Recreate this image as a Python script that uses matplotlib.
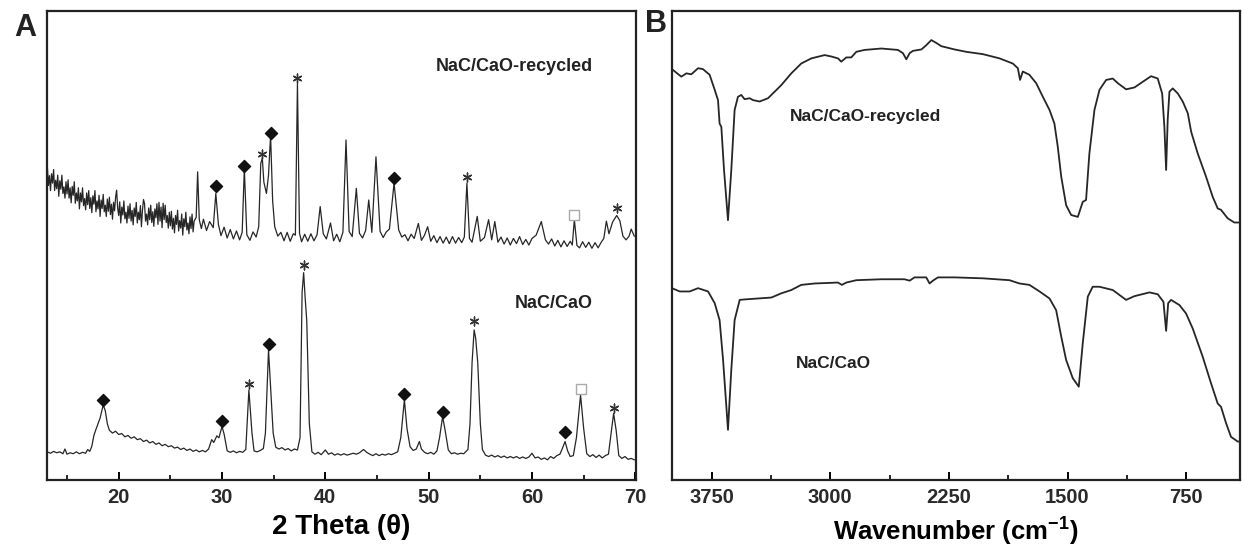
import matplotlib.pyplot as plt

plt.rcParams['font.family'] = ['Liberation Sans', 'DejaVu Sans']
plt.rcParams['mathtext.fontset'] = 'custom'
plt.rcParams['mathtext.bf'] = 'Liberation Sans:bold'
plt.rcParams['mathtext.rm'] = 'Liberation Sans'

# ---- XRD, NaC/CaO-recycled (2theta, a.u.)
# noisy low-angle part, read every 0.1 deg
xrd_rec_x = [13.1, 13.2, 13.3, 13.4, 13.5, 13.6, 13.7, 13.8, 13.9, 14.0, 14.1, 14.2, 14.3, 14.4, 14.5,
             14.6, 14.7, 14.8, 14.9, 15.0, 15.1, 15.2, 15.3, 15.4, 15.5, 15.6, 15.7, 15.8, 15.9, 16.0,
             16.1, 16.2, 16.3, 16.4, 16.5, 16.6, 16.7, 16.8, 16.9, 17.0, 17.1, 17.2, 17.3, 17.4, 17.5,
             17.6, 17.7, 17.8, 17.9, 18.0, 18.1, 18.2, 18.3, 18.4, 18.5, 18.6, 18.7, 18.8, 18.9, 19.0,
             19.1, 19.2, 19.3, 19.4, 19.5, 19.6, 19.7, 19.8, 19.9, 20.0, 20.1, 20.2, 20.3, 20.4, 20.5,
             20.6, 20.7, 20.8, 20.9, 21.0, 21.1, 21.2, 21.3, 21.4, 21.5, 21.6, 21.7, 21.8, 21.9, 22.0,
             22.1, 22.2, 22.3, 22.4, 22.5, 22.6, 22.7, 22.8, 22.9, 23.0, 23.1, 23.2, 23.3, 23.4, 23.5,
             23.6, 23.7, 23.8, 23.9, 24.0, 24.1, 24.2, 24.3, 24.4, 24.5, 24.6, 24.7, 24.8, 24.9, 25.0,
             25.1, 25.2, 25.3, 25.4, 25.5, 25.6, 25.7, 25.8, 25.9, 26.0, 26.1, 26.2, 26.3, 26.4, 26.5,
             26.6, 26.7, 26.8, 26.9, 27.0, 27.1, 27.2, 27.3,
             27.5, 27.64, 27.8, 28.0, 28.2, 28.5, 28.8, 29.15, 29.4, 29.65, 29.9, 30.2, 30.5, 30.8, 31.1,
             31.4, 31.7, 31.95, 32.16, 32.4, 32.7, 33.0, 33.3, 33.55, 33.75, 33.9, 34.05, 34.3, 34.5, 34.7,
             34.9, 35.1, 35.4, 35.7, 36.0, 36.3, 36.6, 36.9, 37.1, 37.3, 37.5, 37.7, 38.0, 38.3, 38.6,
             38.9, 39.2, 39.5, 39.8, 40.1, 40.5, 40.8, 41.1, 41.4, 41.7, 42.0, 42.3, 42.6, 43.0, 43.3,
             43.6, 43.9, 44.2, 44.5, 44.9, 45.3, 45.6, 45.9, 46.2, 46.65, 47.1, 47.4, 47.7, 48.0, 48.3,
             48.6, 49.0, 49.3, 49.6, 49.9, 50.2, 50.5, 50.8, 51.1, 51.4, 51.7, 52.0, 52.3, 52.6, 52.9,
             53.2, 53.45, 53.7, 53.95, 54.2, 54.7, 55.0, 55.4, 55.8, 56.1, 56.4, 56.7, 57.0, 57.3, 57.6,
             57.9, 58.2, 58.5, 58.8, 59.1, 59.4, 59.7, 60.0, 60.4, 60.9, 61.3, 61.6, 61.9, 62.2, 62.5,
             62.8, 63.1, 63.4, 63.7, 63.9, 64.1, 64.35, 64.6, 64.9, 65.2, 65.5, 65.8, 66.1, 66.4, 66.7,
             66.95, 67.2, 67.45, 67.8, 68.2, 68.5, 68.8, 69.1, 69.4, 69.6, 69.9]
xrd_rec_y = [66.6, 62.8, 64.9, 61.7, 65.3, 63.3, 66.2, 61.7, 63.9, 62.1, 65.0, 60.5, 63.8, 62.0, 65.0,
             61.1, 62.5, 60.1, 63.6, 61.0, 64.0, 60.1, 62.3, 59.1, 62.6, 60.7, 63.6, 59.0, 61.2, 59.5,
             62.3, 57.8, 61.2, 59.3, 62.3, 58.5, 60.0, 57.6, 61.2, 58.7, 61.7, 57.9, 60.2, 57.0, 60.6,
             58.8, 61.7, 57.2, 59.5, 57.8, 60.7, 56.2, 59.7, 57.9, 60.9, 57.2, 58.6, 56.2, 59.9, 57.3,
             60.3, 56.6, 58.8, 55.6, 59.2, 57.4, 60.3, 61.8, 58.0, 56.4, 59.3, 54.8, 58.2, 56.5, 59.5,
             55.7, 57.1, 54.8, 58.4, 55.8, 58.9, 55.2, 57.5, 54.4, 58.0, 56.2, 59.2, 54.8, 57.1, 55.5,
             58.5, 54.0, 57.5, 59.8, 58.9, 55.2, 56.7, 54.4, 58.0, 55.5, 58.6, 54.9, 57.2, 54.1, 57.8,
             55.9, 58.9, 54.5, 59.2, 55.2, 58.2, 53.8, 59.0, 55.5, 58.6, 54.9, 56.4, 53.7, 57.1, 54.2,
             57.3, 53.5, 55.8, 52.7, 56.4, 54.5, 57.5, 53.1, 55.3, 53.7, 56.7, 52.2, 55.7, 54.0, 57.1,
             53.3, 54.8, 52.5, 56.1, 53.6, 56.7, 52.9, 55.2,
             56.0, 65.7, 55.5, 53.6, 55.6, 53.2, 55.1, 53.8, 61.1, 54.5, 52.1, 53.9, 51.6, 53.4, 51.4,
             53.1, 51.2, 52.8, 66.4, 52.3, 51.1, 52.9, 51.8, 54.0, 67.5, 68.6, 63.5, 61.1, 65.0, 73.5,
             59.5, 54.0, 52.0, 52.8, 51.0, 52.8, 50.9, 52.5, 52.2, 84.6, 52.6, 50.8, 52.4, 50.9, 52.5,
             51.0, 52.3, 58.3, 52.5, 51.4, 54.8, 51.0, 52.4, 50.8, 52.8, 72.5, 53.0, 51.9, 62.2, 52.6,
             51.6, 53.2, 59.7, 52.8, 68.9, 53.0, 51.7, 52.9, 53.5, 63.3, 53.3, 51.8, 52.3, 51.0, 52.4,
             51.5, 54.7, 51.1, 52.2, 54.0, 50.9, 52.1, 50.6, 51.9, 50.5, 51.8, 50.4, 51.9, 50.5, 51.7,
             50.6, 51.8, 63.3, 51.5, 50.7, 56.2, 50.9, 51.7, 55.5, 51.2, 55.1, 50.7, 51.8, 50.3, 51.6,
             50.1, 51.5, 50.4, 51.9, 50.2, 51.3, 50.1, 51.5, 52.2, 55.1, 51.2, 50.3, 51.4, 49.9, 51.1,
             49.7, 51.0, 49.8, 50.9, 50.1, 55.5, 50.0, 49.5, 50.8, 49.6, 50.7, 49.4, 50.6, 49.5, 50.7,
             51.5, 55.2, 52.5, 55.0, 56.4, 55.3, 52.0, 51.2, 52.0, 53.5, 52.0]

# ---- XRD, NaC/CaO
xrd_x = [13.1, 13.4, 13.7, 14.0, 14.3, 14.6, 14.8, 15.0, 15.3, 15.6, 15.9, 16.2, 16.5, 16.8, 17.0,
         17.2, 17.4, 17.6, 17.8, 18.0, 18.2, 18.5, 18.7, 18.9, 19.1, 19.4, 19.7, 20.0, 20.3, 20.6,
         20.9, 21.2, 21.5, 21.8, 22.1, 22.4, 22.7, 23.0, 23.3, 23.6, 23.9, 24.2, 24.5, 24.8, 25.1,
         25.4, 25.7, 26.0, 26.3, 26.6, 26.9, 27.2, 27.5, 27.8, 28.1, 28.4, 28.7, 29.0, 29.2, 29.5,
         29.7, 30.0, 30.2, 30.5, 30.8, 31.1, 31.4, 31.7, 32.0, 32.3, 32.6, 32.9, 33.1, 33.4, 33.7,
         34.0, 34.2, 34.5, 34.75, 34.95, 35.2, 35.5, 35.8, 36.1, 36.4, 36.7, 37.0, 37.3, 37.55, 37.75,
         37.9, 38.05, 38.2, 38.45, 38.7, 39.0, 39.3, 39.6, 40.0, 40.3, 40.6, 40.9, 41.2, 41.5, 41.8,
         42.1, 42.4, 42.7, 43.0, 43.3, 43.7, 44.0, 44.3, 44.6, 44.9, 45.2, 45.5, 45.8, 46.1, 46.4,
         46.7, 47.0, 47.3, 47.65, 47.9, 48.2, 48.5, 48.8, 49.1, 49.3, 49.6, 49.9, 50.2, 50.5, 50.8,
         51.05, 51.35, 51.6, 51.9, 52.2, 52.5, 52.8, 53.1, 53.4, 53.8, 54.0, 54.2, 54.4, 54.55, 54.75,
         55.0, 55.2, 55.5, 55.8, 56.1, 56.4, 56.7, 57.0, 57.3, 57.6, 57.9, 58.2, 58.5, 58.8, 59.1,
         59.4, 59.7, 60.0, 60.3, 60.6, 60.9, 61.2, 61.5, 61.8, 62.1, 62.4, 62.7, 62.9, 63.2, 63.45,
         63.7, 64.0, 64.3, 64.7, 65.0, 65.3, 65.6, 65.9, 66.2, 66.5, 66.8, 67.1, 67.4, 67.6, 67.9,
         68.15, 68.4, 68.7, 69.0, 69.3, 69.6, 69.9]
xrd_y = [6.0, 5.7, 6.1, 5.8, 6.0, 5.6, 6.6, 5.5, 5.8, 5.6, 6.0, 5.6, 5.9, 5.7, 6.5,
         6.1, 7.2, 9.5, 10.8, 12.0, 13.2, 16.0, 14.8, 12.0, 10.6, 10.0, 10.4, 9.7, 9.9, 9.2,
         9.5, 8.9, 9.2, 8.6, 8.8, 8.2, 8.5, 7.9, 8.2, 7.6, 7.9, 7.3, 7.6, 7.1, 7.3,
         6.8, 7.0, 6.5, 6.8, 6.3, 6.6, 6.1, 6.4, 6.0, 6.3, 6.0, 6.6, 8.6, 8.0, 9.4,
         9.0, 11.4, 9.8, 6.2, 5.9, 6.2, 5.8, 6.1, 5.9, 6.5, 19.2, 10.0, 6.2, 6.0, 6.3,
         6.7, 10.0, 27.7, 18.0, 10.0, 7.0, 6.6, 6.9, 6.4, 6.7, 6.2, 6.6, 6.4, 9.0, 40.0,
         44.2, 38.7, 34.0, 12.0, 6.0, 5.5, 5.9, 5.4, 6.4, 5.5, 5.8, 5.3, 5.6, 5.3, 5.6,
         5.3, 5.5, 5.7, 5.5, 5.8, 6.5, 5.9, 5.5, 5.2, 5.6, 5.2, 5.5, 5.3, 5.6, 5.4,
         5.7, 6.0, 9.0, 17.1, 11.0, 7.1, 6.3, 6.6, 8.2, 6.6, 5.9, 5.6, 5.9, 5.5, 6.2,
         9.0, 13.5, 10.5, 6.4, 5.6, 5.8, 5.5, 5.7, 5.6, 6.5, 12.0, 25.0, 32.0, 30.2, 25.0,
         12.0, 6.5, 5.3, 5.0, 5.3, 4.9, 5.2, 4.8, 5.1, 4.7, 5.0, 4.7, 5.0, 4.6, 4.9,
         4.6, 4.9, 5.7, 4.7, 4.9, 4.4, 4.7, 4.3, 5.0, 4.6, 5.2, 5.5, 6.5, 8.2, 6.2,
         5.0, 5.2, 9.0, 18.1, 11.0, 5.6, 5.0, 5.4, 4.8, 5.3, 4.7, 5.2, 5.5, 9.0, 14.2,
         10.5, 5.2, 4.6, 5.0, 4.4, 4.6, 4.3]

# phase markers (position, height)
rec_dia_x = [29.4, 32.16, 34.7, 46.65]
rec_dia_y = [62.7, 67.0, 74.0, 64.3]
rec_star_x = [33.85, 37.3, 53.7, 68.2]
rec_star_y = [69.5, 85.8, 64.7, 58.0]
rec_sq_x = [64.1]
rec_sq_y = [56.5]
dia_x = [18.5, 30.0, 34.5, 47.65, 51.35, 63.2]
dia_y = [17.1, 12.5, 29.0, 18.3, 14.6, 10.3]
star_x = [32.6, 37.9, 54.4, 67.9]
star_y = [20.5, 45.8, 33.9, 15.4]
sq_x = [64.7]
sq_y = [19.3]

# ---- FTIR, NaC/CaO-recycled (cm-1, a.u.)
ir_rec_x = [4000, 3941, 3909, 3878, 3835, 3804, 3762, 3730, 3709, 3699, 3688, 3671, 3646, 3625, 3604,
            3583, 3562, 3541, 3509, 3488, 3446, 3393, 3351, 3309, 3246, 3183, 3119, 3035, 2993, 2951,
            2930, 2898, 2867, 2835, 2783, 2677, 2572, 2540, 2519, 2498, 2477, 2424, 2393, 2361, 2330,
            2298, 2214, 2141, 2035, 1930, 1846, 1814, 1800, 1783, 1741, 1698, 1656, 1614, 1583, 1562,
            1540, 1509, 1477, 1435, 1404, 1383, 1362, 1330, 1298, 1256, 1214, 1182, 1130, 1077, 1025,
            972, 930, 902, 888, 877, 867, 856, 835, 803, 772, 740, 719, 713, 677, 625,
            583, 551, 530, 488, 446, 414]
ir_rec_y = [87.6, 86.0, 86.7, 86.5, 87.8, 87.6, 86.4, 83.2, 81.0, 76.0, 75.3, 66.1, 55.4, 66.1, 78.9,
            81.7, 82.1, 81.2, 81.4, 81.0, 80.7, 81.4, 82.8, 84.2, 86.7, 88.8, 89.9, 90.6, 90.3, 89.9,
            89.2, 90.1, 90.1, 91.3, 91.7, 92.0, 91.7, 91.0, 89.7, 91.0, 91.5, 91.8, 92.7, 93.8, 93.2,
            92.5, 91.8, 91.3, 90.8, 89.9, 88.8, 87.8, 85.3, 87.1, 86.4, 84.6, 81.7, 78.9, 76.0, 71.1,
            64.7, 58.6, 56.5, 56.1, 59.3, 59.7, 69.6, 78.9, 83.2, 85.3, 85.6, 84.6, 83.3, 83.7, 84.9,
            86.1, 85.6, 82.4, 75.3, 66.1, 76.8, 82.8, 83.5, 82.4, 80.7, 78.2, 74.3, 73.6, 69.6, 64.7,
            60.4, 57.9, 57.6, 55.8, 54.9, 54.9]

# ---- FTIR, NaC/CaO
ir_x = [4000, 3951, 3888, 3835, 3772, 3730, 3699, 3677, 3646, 3625, 3604, 3572, 3541, 3456, 3372,
        3309, 3246, 3183, 3098, 2951, 2926, 2898, 2835, 2677, 2530, 2498, 2467, 2393, 2372, 2351,
        2319, 2214, 2035, 1867, 1804, 1741, 1677, 1614, 1572, 1540, 1509, 1467, 1429, 1404, 1372,
        1341, 1298, 1214, 1130, 1077, 982, 930, 894, 877, 864, 846, 793, 751, 709, 646,
        593, 551, 530, 498, 467, 425, 414]
ir_y = [40.9, 40.2, 40.2, 40.9, 40.2, 37.7, 34.1, 25.6, 10.7, 23.5, 34.1, 38.4, 38.5, 38.7, 38.9,
        39.8, 40.5, 41.6, 41.9, 42.1, 41.6, 42.1, 42.6, 42.8, 42.8, 42.5, 43.2, 43.2, 41.9, 42.5,
        43.2, 43.2, 43.0, 42.6, 41.9, 41.6, 40.2, 38.7, 36.2, 30.6, 25.6, 21.7, 19.9, 29.1, 39.1,
        41.2, 41.2, 40.5, 38.4, 39.2, 40.0, 39.6, 38.0, 31.8, 37.7, 38.4, 37.3, 35.5, 32.3, 26.3,
        20.6, 16.3, 15.6, 12.1, 9.2, 8.2, 8.2]

line_c = '#262626'
fig = plt.figure(figsize=(12.43, 5.5), dpi=100)
axA = fig.add_axes([0.0378, 0.1273, 0.4739, 0.8527])
axB = fig.add_axes([0.5406, 0.1273, 0.4570, 0.8527])

# panel A
axA.plot(xrd_rec_x, xrd_rec_y, color=line_c, lw=0.9)
axA.plot(xrd_x, xrd_y, color=line_c, lw=0.9)
for mx, my in [(rec_dia_x, rec_dia_y), (dia_x, dia_y)]:
    axA.scatter(mx, my, marker='D', s=38, color='#111111', zorder=3)
for mx, my in [(rec_star_x, rec_star_y), (star_x, star_y)]:
    axA.scatter(mx, my, marker=(6, 2, 0), s=40, color='#333333', linewidths=1.0, zorder=3)
for mx, my in [(rec_sq_x, rec_sq_y), (sq_x, sq_y)]:
    axA.scatter(mx, my, marker='s', s=50, facecolor='white', edgecolor='#aaaaaa', linewidths=1.0, zorder=3)
axA.text(65.9, 88.1, 'NaC/CaO-recycled', ha='right', va='center', fontsize=13, fontweight='bold', color='#222222')
axA.text(65.9, 37.7, 'NaC/CaO', ha='right', va='center', fontsize=13, fontweight='bold', color='#222222')
axA.set_xlim(13.06, 70.07)
axA.set_ylim(0, 100)
axA.set_xticks([20, 30, 40, 50, 60, 70])
axA.set_xticks([15, 25, 35, 45, 55, 65], minor=True)
axA.set_xlabel('2 Theta (θ)', fontsize=20, fontweight='bold', labelpad=5)

# panel B
axB.plot(ir_rec_x, ir_rec_y, color=line_c, lw=1.3)
axB.plot(ir_x, ir_y, color=line_c, lw=1.3)
axB.text(2776, 77.4, 'NaC/CaO-recycled', ha='center', va='center', fontsize=12.5, fontweight='bold', color='#222222')
axB.text(2979, 24.9, 'NaC/CaO', ha='center', va='center', fontsize=12.5, fontweight='bold', color='#222222')
axB.set_xlim(4000, 410)
axB.set_ylim(0, 100)
axB.set_xticks([3750, 3000, 2250, 1500, 750])
axB.set_xticks([3375, 2625, 1875, 1125], minor=True)
axB.set_xlabel(r'Wavenumber (cm$^{\mathbf{-1}}$)', fontsize=18.5, fontweight='bold', labelpad=5)

for ax in [axA, axB]:
    ax.set_yticks([])
    for s in ax.spines.values():
        s.set_linewidth(1.6)
        s.set_color('#222222')
    ax.tick_params(axis='x', which='major', direction='in', length=6, width=1.4, labelsize=14.5, pad=6)
    ax.tick_params(axis='x', which='minor', direction='in', length=3.5, width=1.2)
    for lab in ax.get_xticklabels():
        lab.set_fontweight('bold')
        lab.set_color('#2a2a2a')

fig.text(25 / 1243, 1 - 28 / 550, 'A', fontsize=22, fontweight='bold', ha='center', va='center', color='#222222')
fig.text(656 / 1243, 1 - 24 / 550, 'B', fontsize=22, fontweight='bold', ha='center', va='center', color='#222222')

plt.savefig('out.png', dpi=100)
